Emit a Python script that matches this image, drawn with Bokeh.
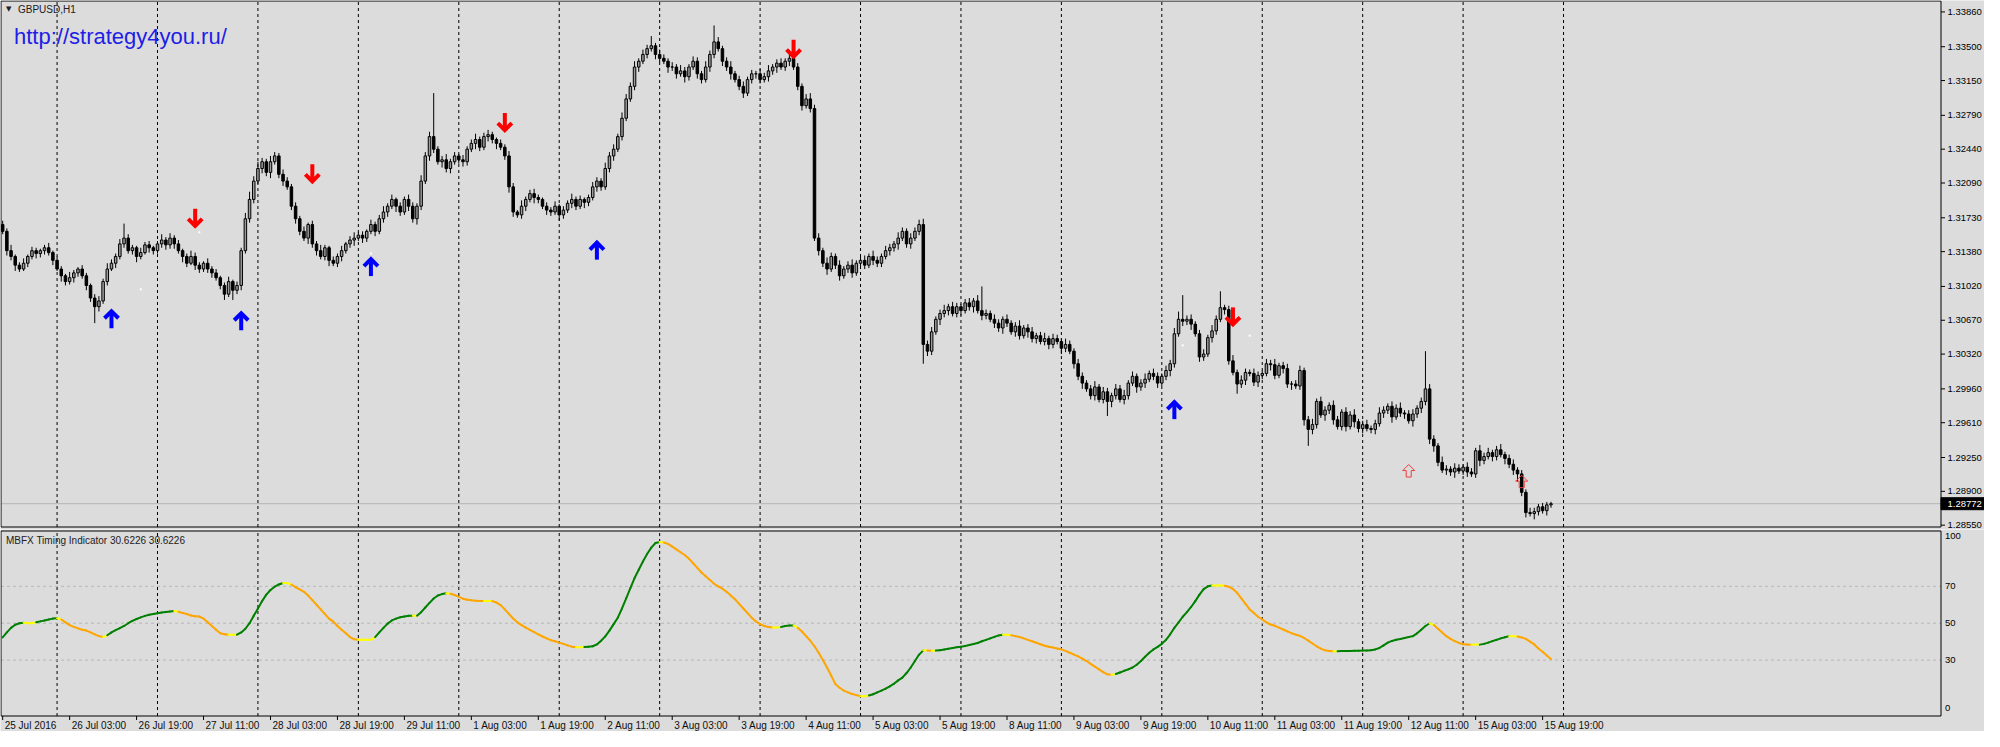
from bokeh.plotting import figure
from bokeh.layouts import column
from bokeh.models import Range1d, Label, ColumnDataSource
from bokeh.core.properties import value
from bokeh.embed import file_html
from bokeh.resources import INLINE

# ---------------- data (GBPUSD H1, 25 Jul 2016 11:00 -> 15 Aug 2016 21:00) ----------------
first_open = 1.3166
close = [
    1.3159, 1.3139, 1.3133, 1.3124, 1.3120, 1.3126, 1.3133, 1.3139, 1.3136, 1.3139,
    1.3142, 1.3137, 1.3129, 1.3120, 1.3113, 1.3107, 1.3111, 1.3116, 1.3120, 1.3113,
    1.3103, 1.3090, 1.3081, 1.3087, 1.3107, 1.3120, 1.3126, 1.3133, 1.3146, 1.3152,
    1.3139, 1.3142, 1.3133, 1.3137, 1.3145, 1.3142, 1.3139, 1.3146, 1.3150, 1.3145,
    1.3152, 1.3146, 1.3139, 1.3133, 1.3126, 1.3133, 1.3124, 1.3120, 1.3126, 1.3120,
    1.3116, 1.3111, 1.3103, 1.3094, 1.3107, 1.3098, 1.3103, 1.3139, 1.3172, 1.3192,
    1.3211, 1.3224, 1.3231, 1.3220, 1.3231, 1.3237, 1.3218, 1.3211, 1.3205, 1.3185,
    1.3172, 1.3159, 1.3152, 1.3166, 1.3146, 1.3139, 1.3133, 1.3142, 1.3129, 1.3126,
    1.3133, 1.3139, 1.3146, 1.3150, 1.3152, 1.3155, 1.3152, 1.3159, 1.3166, 1.3159,
    1.3172, 1.3179, 1.3185, 1.3192, 1.3185, 1.3179, 1.3192, 1.3185, 1.3172, 1.3185,
    1.3211, 1.3237, 1.3257, 1.3244, 1.3231, 1.3233, 1.3224, 1.3231, 1.3237, 1.3233,
    1.3231, 1.3244, 1.3250, 1.3254, 1.3246, 1.3257, 1.3259, 1.3254, 1.3250, 1.3246,
    1.3237, 1.3205, 1.3179, 1.3176, 1.3185, 1.3192, 1.3198, 1.3194, 1.3192, 1.3185,
    1.3181, 1.3179, 1.3185, 1.3176, 1.3181, 1.3188, 1.3192, 1.3185, 1.3192, 1.3189,
    1.3194, 1.3205, 1.3211, 1.3205, 1.3224, 1.3237, 1.3244, 1.3257, 1.3276, 1.3296,
    1.3309, 1.3329, 1.3335, 1.3342, 1.3348, 1.3351, 1.3342, 1.3338, 1.3335, 1.3329,
    1.3329, 1.3322, 1.3325, 1.3319, 1.3329, 1.3335, 1.3322, 1.3316, 1.3329, 1.3342,
    1.3355, 1.3348, 1.3335, 1.3329, 1.3322, 1.3316, 1.3309, 1.3302, 1.3316, 1.3322,
    1.3322, 1.3316, 1.3319, 1.3325, 1.3329, 1.3333, 1.3329, 1.3335, 1.3338, 1.3329,
    1.3309, 1.3289, 1.3296, 1.3286, 1.3152, 1.3139, 1.3126, 1.3120, 1.3133, 1.3124,
    1.3113, 1.3120, 1.3124, 1.3116, 1.3126, 1.3129, 1.3124, 1.3133, 1.3129, 1.3126,
    1.3133, 1.3139, 1.3142, 1.3146, 1.3152, 1.3159, 1.3146, 1.3152, 1.3159, 1.3166,
    1.3042, 1.3035, 1.3055, 1.3068, 1.3074, 1.3077, 1.3081, 1.3074, 1.3081, 1.3077,
    1.3085, 1.3081, 1.3087, 1.3077, 1.3072, 1.3074, 1.3068, 1.3064, 1.3059, 1.3068,
    1.3064, 1.3055, 1.3061, 1.3051, 1.3059, 1.3055, 1.3048, 1.3051, 1.3045, 1.3048,
    1.3042, 1.3048, 1.3045, 1.3038, 1.3042, 1.3035, 1.3022, 1.3009, 1.3002, 1.2996,
    1.2989, 1.2998, 1.2985, 1.2993, 1.2983, 1.2989, 1.2996, 1.2985, 1.2989, 1.3002,
    1.3009, 1.2998, 1.3002, 1.3006, 1.3012, 1.3009, 1.3002, 1.3009, 1.3015, 1.3022,
    1.3053, 1.3068, 1.3066, 1.3068, 1.3063, 1.3053, 1.3029, 1.3032, 1.3049, 1.3056,
    1.3068, 1.3080, 1.3078, 1.3025, 1.3013, 1.3001, 1.3005, 1.3013, 1.3012, 1.3003,
    1.3010, 1.3012, 1.3022, 1.3021, 1.3010, 1.3020, 1.3017, 1.3001, 1.3001, 1.2999,
    1.3015, 1.2964, 1.2954, 1.2959, 1.2983, 1.2969, 1.2974, 1.2979, 1.2964, 1.2957,
    1.2972, 1.2957, 1.2969, 1.2962, 1.2955, 1.2959, 1.2955, 1.2954, 1.2960, 1.2971,
    1.2974, 1.2978, 1.2967, 1.2976, 1.2971, 1.2970, 1.2963, 1.2970, 1.2976, 1.2983,
    1.2996, 1.2944, 1.2937, 1.2920, 1.2912, 1.2913, 1.2910, 1.2914, 1.2911, 1.2915,
    1.2910, 1.2908, 1.2932, 1.2922, 1.2926, 1.2930, 1.2926, 1.2933, 1.2928, 1.2924,
    1.2918, 1.2912, 1.2908, 1.2889, 1.2868, 1.2867, 1.2869, 1.2874, 1.2870, 1.2876, 1.28772,
]
# upper / lower shadow lengths in pips
wick_up = [
    4, 3, 6, 2, 3, 5, 2, 4, 3, 2,  3, 5, 2, 4, 3, 2, 6, 3, 2, 4,
    3, 2, 4, 5, 3, 6, 4, 3, 5, 15,  4, 3, 2, 5, 3, 4, 2, 3, 6, 3,
    5, 3, 4, 2, 3, 6, 4, 3, 2, 5,  3, 4, 2, 3, 5, 2, 4, 3, 6, 8,
    5, 7, 4, 3, 6, 4, 3, 5, 4, 3,  4, 3, 5, 2, 4, 3, 6, 3, 2, 4,
    3, 5, 2, 4, 6, 3, 4, 2, 5, 3,  4, 6, 3, 5, 2, 4, 3, 5, 4, 3,
    6, 4, 5, 45, 3, 4, 6, 3, 4, 2,  5, 3, 4, 6, 3, 4, 5, 3, 2, 4,
    3, 5, 4, 2, 6, 3, 4, 5, 3, 2,  4, 3, 5, 2, 4, 3, 6, 3, 4, 2,
    3, 5, 4, 3, 6, 4, 5, 3, 6, 5,  4, 6, 3, 5, 4, 10, 3, 5, 4, 3,
    5, 3, 6, 4, 3, 5, 4, 3, 6, 4,  17, 5, 3, 4, 6, 3, 4, 5, 3, 4,
    3, 5, 4, 6, 3, 4, 5, 3, 4, 6,  4, 3, 5, 6, 4, 5, 3, 6, 4, 3,
    5, 3, 4, 6, 3, 4, 5, 3, 6, 4,  3, 5, 4, 3, 6, 4, 3, 5, 4, 5,
    6, 4, 5, 3, 4, 6, 3, 5, 4, 3,  4, 5, 3, 6, 25, 4, 3, 5, 4, 3,
    5, 3, 4, 6, 3, 4, 5, 3, 4, 6,  3, 5, 4, 3, 6, 4, 3, 5, 4, 3,
    4, 6, 3, 5, 4, 3, 5, 4, 6, 3,  5, 3, 4, 6, 3, 5, 4, 3, 5, 4,
    6, 8, 25, 4, 5, 3, 4, 5, 3, 6,  4, 17, 3, 4, 6, 3, 5, 4, 3, 5,
    4, 3, 5, 4, 6, 3, 4, 5, 3, 4,  5, 3, 4, 6, 3, 5, 4, 3, 5, 4,
    3, 5, 4, 6, 3, 4, 5, 3, 4, 6,  4, 3, 5, 4, 6, 3, 4, 5, 3, 4,
    39, 5, 4, 3, 6, 4, 3, 5, 4, 3,  5, 4, 3, 6, 4, 5, 3, 4, 6, 3,
    4, 5, 3, 4, 3, 5, 4, 3, 4, 3, 2,
]
wick_dn = [
    3, 5, 4, 6, 3, 2, 4, 3, 5, 4,  4, 3, 5, 2, 6, 4, 3, 5, 4, 3,
    5, 4, 17, 5, 3, 4, 2, 5, 3, 4,  3, 4, 6, 3, 2, 5, 4, 3, 4, 5,
    4, 5, 3, 6, 4, 2, 5, 4, 3, 4,  5, 3, 4, 6, 3, 10, 4, 5, 3, 4,
    4, 3, 5, 4, 6, 3, 4, 5, 3, 4,  5, 4, 3, 6, 4, 5, 3, 4, 6, 3,
    4, 5, 3, 4, 6, 3, 5, 4, 3, 5,  3, 4, 5, 3, 6, 4, 3, 5, 4, 6,
    4, 3, 5, 4, 3, 6, 4, 5, 3, 4,  5, 4, 3, 6, 4, 3, 5, 4, 6, 3,
    4, 6, 5, 3, 4, 5, 3, 6, 4, 3,  5, 4, 3, 6, 4, 3, 5, 4, 3, 6,
    4, 3, 5, 4, 3, 4, 5, 3, 4, 3,  3, 4, 5, 3, 4, 3, 5, 4, 3, 6,
    4, 5, 3, 6, 4, 3, 5, 4, 3, 5,  4, 3, 5, 4, 6, 3, 4, 5, 3, 4,
    5, 4, 3, 5, 4, 6, 3, 4, 5, 3,  4, 5, 3, 4, 3, 5, 4, 6, 3, 4,
    5, 3, 4, 5, 3, 6, 4, 3, 5, 4,  4, 3, 5, 4, 6, 3, 4, 5, 3, 4,
    20, 5, 4, 3, 6, 4, 5, 3, 4, 5,  3, 4, 6, 3, 5, 4, 3, 5, 4, 6,
    4, 3, 5, 4, 3, 6, 4, 5, 3, 4,  5, 4, 3, 6, 4, 3, 5, 4, 6, 3,
    4, 5, 3, 4, 15, 6, 4, 3, 5, 4,  3, 6, 4, 5, 3, 4, 5, 3, 4, 6,
    4, 3, 5, 4, 6, 3, 5, 4, 3, 5,  4, 3, 5, 4, 3, 10, 4, 5, 3, 4,
    5, 4, 3, 6, 4, 3, 5, 4, 6, 3,  4, 6, 17, 5, 4, 3, 6, 4, 5, 3,
    4, 5, 3, 6, 4, 5, 3, 4, 5, 3,  5, 4, 6, 3, 4, 5, 3, 6, 4, 5,
    4, 5, 6, 4, 3, 5, 4, 6, 3, 4,  5, 3, 4, 6, 4, 3, 5, 4, 3, 6,
    4, 5, 8, 4, 5, 3, 6, 4, 3, 5, 3,
]
# MBFX Timing Indicator values
mbfx = [
    42.3, 45, 47.5, 49.2, 50, 50.3, 50, 50, 50.5, 51,
    51.5, 52, 52.5, 52.7, 52, 50.5, 49, 48, 47.2, 46.5,
    46, 45, 44, 43, 42.5, 43.5, 45, 46.3, 47.3, 48.5,
    50, 51.3, 52.3, 53.2, 54, 54.6, 55, 55.4, 55.8, 56.1,
    56.4, 56.6, 56.2, 55.5, 55, 54.2, 53.8, 53.6, 52.5, 50.5,
    48.5, 46.5, 44.6, 44, 43.75, 43.75, 43.8, 45, 47, 50,
    54, 58, 62, 65.5, 68, 69.8, 71, 71.8, 71.8, 71,
    69.5, 68.3, 67, 65, 62.5, 60, 57.5, 55, 52.5, 50.9,
    48.5, 46.5, 44.5, 42.5, 41.3, 41, 41, 41, 41, 42.5,
    45, 47.5, 49.8, 51.5, 52.5, 53.2, 53.6, 54, 54.1, 54.1,
    56, 58.5, 61, 63.4, 65, 65.8, 66.25, 66, 65.3, 64.3,
    63.3, 62.7, 62.5, 62.2, 62.1, 62, 62, 62, 61.2, 59.8,
    57.5, 55, 52.5, 50.5, 49, 47.6, 46.4, 45.2, 44, 42.8,
    41.8, 40.8, 40.2, 39.5, 38.8, 38, 37.3, 37, 37, 37.1,
    37.3, 37.5, 38.5, 40.5, 42.9, 46, 49.5, 53, 58, 63.5,
    69, 74.5, 79, 83.5, 87.5, 91, 93.5, 94, 93.8, 93,
    91.5, 90, 88.5, 87, 85, 82.5, 80, 77.5, 75.5, 73.5,
    71.4, 70, 68.7, 67, 65, 63, 60.5, 58, 55.5, 53,
    51, 49.5, 48.5, 48, 47.7, 47.7, 48, 48.5, 48.75, 48.8,
    47.5, 45.5, 43, 40.5, 37.5, 34, 30, 26, 21.5, 17,
    15, 13.5, 12.5, 11.6, 11, 10.4, 10.4, 10.8, 11.5, 12.5,
    13.5, 14.5, 15.8, 17.2, 19, 20.5, 23, 26, 29.5, 33,
    35.3, 35.2, 35.1, 35.15, 35.4, 35.8, 36.2, 36.6, 37, 37.3,
    37.7, 38.2, 38.7, 39.3, 40.2, 41, 41.8, 42.6, 43.4, 43.8,
    43.8, 43.5, 43, 42.5, 41.8, 41, 40.2, 39.4, 38.6, 37.8,
    37.2, 36.8, 36.3, 35.8, 35, 34, 33, 32, 30.8, 29.5,
    28, 26.5, 25, 23.5, 22.3, 22, 22.5, 23.3, 24.2, 25,
    26, 27.5, 29.5, 31.8, 34, 35.8, 37.2, 38.8, 41, 44,
    47.5, 50.5, 53.5, 56, 58.8, 62, 65.5, 68.5, 70, 70.5,
    70.5, 70.5, 70.3, 69.8, 68.5, 66.5, 63.5, 60.5, 57.5, 55.5,
    53.5, 52, 50.5, 49.3, 48.6, 47.6, 46.6, 45.6, 44.6, 43.8,
    43.2, 42, 40.6, 39, 37.5, 36.2, 35.3, 34.9, 34.8, 34.85,
    34.9, 34.95, 35, 35.05, 35.1, 35.15, 35.2, 35.4, 35.8, 36.6,
    38, 39.5, 40.4, 41, 41.5, 42, 42.5, 43, 44.5, 46.5,
    48.5, 50, 49, 47, 45, 43, 41.5, 40.3, 39.3, 38.6,
    38.4, 38.3, 38.4, 38.4, 38.8, 39.5, 40.3, 41, 41.8, 42.4,
    43, 43, 42.8, 42.3, 41.5, 40, 38.5, 36.3, 34.5, 32.5, 30.6226,
]
buy_bar = [26, 57, 88, 142, 280]
buy_price = [1.3068, 1.3066, 1.3122, 1.3139, 1.2974]
sell_bar = [46, 74, 120, 189, 294]
sell_price = [1.3173, 1.3219, 1.3272, 1.3348, 1.3071]
hollow_bar = [336, 363]
hollow_price = [1.2911, 1.2900]
dot_bar = [33, 47, 88, 282, 298]
dot_price = [1.3099, 1.3158, 1.3136, 1.3041, 1.3051]
last_price = 1.28772
last_price_label = "1.28772"

price_ticks = [1.33860, 1.33500, 1.33150, 1.32790, 1.32440, 1.32090, 1.31730, 1.31380,
               1.31020, 1.30670, 1.30320, 1.29960, 1.29610, 1.29250, 1.28900, 1.28550]
time_label_bars = [0, 16, 32, 48, 64, 80, 96, 112, 128, 144, 160, 176, 192, 208, 224,
                   240, 256, 272, 288, 304, 320, 336, 352, 368]
time_labels = ["25 Jul 2016", "26 Jul 03:00", "26 Jul 19:00", "27 Jul 11:00", "28 Jul 03:00",
               "28 Jul 19:00", "29 Jul 11:00", "1 Aug 03:00", "1 Aug 19:00", "2 Aug 11:00",
               "3 Aug 03:00", "3 Aug 19:00", "4 Aug 11:00", "5 Aug 03:00", "5 Aug 19:00",
               "8 Aug 11:00", "9 Aug 03:00", "9 Aug 19:00", "10 Aug 11:00", "11 Aug 03:00",
               "11 Aug 19:00", "12 Aug 11:00", "15 Aug 03:00", "15 Aug 19:00"]
day_bars = [13, 37, 61, 85, 109, 133, 157, 181, 205, 229, 253, 277, 301, 325, 349, 373]
level_values = [30, 50, 70]
sub_mid_labels = [70, 50, 30]
sub_top_label = 100
sub_bottom_label = 0
indicator_title = "MBFX Timing Indicator 30.6226 30.6226"

n = len(close)
assert len(wick_up) == n and len(wick_dn) == n and len(mbfx) == n

# ---------------- layout (pixels) ----------------
W = 1984
MAIN_H, SUB_H = 529, 202
BOX_L, BOX_R = 0.5, 1940.5                 # chart box left/right (px from canvas left)
MAIN_TOP, MAIN_BOT = 0.5, 526.5            # main box (px from canvas top)
SUB_TOP, SUB_BOT = 1.5, 186.5              # sub box (px from canvas top)
X0, X1 = -0.4, 463.2                       # bar index at box edges
Y0, Y1 = 1.28531, 1.33973                  # price at main box edges
V0, V1 = -0.3, 100.0                       # indicator value at sub box edges
BG = "#dcdcdc"
FONT = value("Liberation Sans")

ppb = (BOX_R - BOX_L) / (X1 - X0)
x_start = X0 - BOX_L / ppb
x_end = x_start + W / ppb
ppp = (MAIN_BOT - MAIN_TOP) / (Y1 - Y0)
y_end = Y1 + MAIN_TOP / ppp
y_start = y_end - MAIN_H / ppp
ppv = (SUB_BOT - SUB_TOP) / (V1 - V0)
v_end = V1 + SUB_TOP / ppv
v_start = v_end - SUB_H / ppv

x_range = Range1d(x_start, x_end)


def base_fig(h, yr):
    f = figure(width=W, height=h, x_range=x_range, y_range=yr, toolbar_location=None,
               output_backend="svg", x_axis_location=None, y_axis_location=None, title=None,
               min_border=0)
    f.background_fill_color = BG
    f.border_fill_color = BG
    f.outline_line_color = None
    f.grid.visible = False
    return f


# ---------------- main price panel ----------------
opens = [first_open] + close[:-1]
highs = [max(o, c) + u * 0.0001 for o, c, u in zip(opens, close, wick_up)]
lows = [min(o, c) - d * 0.0001 for o, c, d in zip(opens, close, wick_dn)]
src = ColumnDataSource(dict(
    x=list(range(n)), h=highs, l=lows,
    top=[max(o, c) for o, c in zip(opens, close)],
    bot=[min(o, c) for o, c in zip(opens, close)],
    fill=["#9c9c9c" if c >= o else "#000000" for o, c in zip(opens, close)],
))

p = base_fig(MAIN_H, Range1d(y_start, y_end))
p.segment(x0=day_bars, y0=[Y0] * len(day_bars), x1=day_bars, y1=[Y1] * len(day_bars),
          line_color="black", line_dash="3 3", line_width=1)
p.segment(x0=[X0], y0=[last_price], x1=[X1], y1=[last_price], line_color="#b4b4b4", line_width=1)
p.segment(x0="x", y0="l", x1="x", y1="h", source=src, line_color="black", line_width=1)
p.vbar(x="x", width=0.6, top="top", bottom="bot", source=src, fill_color="fill",
       line_color="black", line_width=1)


def arrow_paths(bars, prices, up):
    s = 1 if up else -1
    xs, ys = [], []
    for b, pr in zip(bars, prices):
        for path in ([(0, -9 * s), (0, 8 * s)], [(-7, 1 * s), (0, 8 * s), (7, 1 * s)]):
            xs.append([b + px / ppb for px, _ in path])
            ys.append([pr + py / ppp for _, py in path])
    return xs, ys


bx, by = arrow_paths(buy_bar, buy_price, True)
p.multi_line(bx, by, line_color="#0000ff", line_width=4, line_join="miter")
sx, sy = arrow_paths(sell_bar, sell_price, False)
p.multi_line(sx, sy, line_color="#ff0000", line_width=4, line_join="miter")
hollow_shape = [(0, 6.5), (6, 0.5), (2.5, 0.5), (2.5, -6), (-2.5, -6), (-2.5, 0.5), (-6, 0.5)]
hx = [[b + px / ppb for px, _ in hollow_shape] for b in hollow_bar]
hy = [[pr + py / ppp for _, py in hollow_shape] for pr in hollow_price]
p.patches(hx, hy, fill_alpha=0, line_color="#f03c3c", line_width=1)
p.scatter(dot_bar, dot_price, marker="square", size=2, fill_color="white", line_color=None)

p.quad(left=[X0], right=[X1], bottom=[Y0], top=[Y1], fill_color=None, line_color="black",
       line_width=1)
p.segment(x0=[X1] * len(price_ticks), y0=price_ticks, x1=[X1 + 4 / ppb] * len(price_ticks),
          y1=price_ticks, line_color="black", line_width=1)
p.text(x=[X1 + 6.5 / ppb] * len(price_ticks), y=price_ticks,
       text=["%.5f" % t for t in price_ticks], text_font=FONT, text_font_size="9.5px",
       text_align="left", text_baseline="middle", text_color="#000000")
p.quad(left=[X1], right=[x_end], bottom=[last_price - 6 / ppp], top=[last_price + 6 / ppp],
       fill_color="black", line_color="black")
p.text(x=[X1 + 6.5 / ppb], y=[last_price], text=[last_price_label], text_font=FONT,
       text_font_size="9.5px", text_align="left", text_baseline="middle", text_color="white")

p.add_layout(Label(x=BOX_L + 5, y=MAIN_H - MAIN_TOP - 4, x_units="screen", y_units="screen",
                   text="\u25bc", text_font="DejaVu Sans", text_font_size="7px",
                   text_baseline="top", text_color="#202020"))
p.add_layout(Label(x=BOX_L + 17, y=MAIN_H - MAIN_TOP - 3, x_units="screen", y_units="screen",
                   text="GBPUSD,H1", text_font="Liberation Sans", text_font_size="10px",
                   text_baseline="top", text_color="#202020"))
p.add_layout(Label(x=BOX_L + 13, y=MAIN_H - MAIN_TOP - 35, x_units="screen", y_units="screen",
                   text="http://strategy4you.ru/", text_font="Liberation Sans",
                   text_font_size="22px", text_baseline="alphabetic", text_color="#1e1ee6"))

# ---------------- MBFX sub panel ----------------
q = base_fig(SUB_H, Range1d(v_start, v_end))
q.segment(x0=day_bars, y0=[V0] * len(day_bars), x1=day_bars, y1=[V1] * len(day_bars),
          line_color="black", line_dash="3 3", line_width=1)
q.segment(x0=[X0] * 3, y0=level_values, x1=[X1] * 3, y1=level_values,
          line_color="#b8b8b8", line_dash="3 3", line_width=1)

seg_x0, seg_y0, seg_x1, seg_y1, seg_c = [], [], [], [], []
prev = 0
for i in range(n - 1):
    d = mbfx[i + 1] - mbfx[i]
    s = 1 if d > 0 else (-1 if d < 0 else 0)
    if s == 0 or (prev != 0 and s != prev):
        col = "#ffff00"
    else:
        col = "#008000" if s > 0 else "#ffa500"
    if s != 0:
        prev = s
    seg_x0.append(i); seg_y0.append(mbfx[i]); seg_x1.append(i + 1); seg_y1.append(mbfx[i + 1])
    seg_c.append(col)
q.segment(x0=seg_x0, y0=seg_y0, x1=seg_x1, y1=seg_y1, line_color=seg_c, line_width=2,
          line_cap="round")

q.quad(left=[X0], right=[X1], bottom=[V0], top=[V1], fill_color=None, line_color="black",
       line_width=1)
q.text(x=[X1 + 4 / ppb] * 3, y=sub_mid_labels, text=[str(v) for v in sub_mid_labels],
       text_font=FONT, text_font_size="9.5px", text_align="left", text_baseline="middle",
       text_color="#000000")
q.text(x=[X1 + 4 / ppb], y=[sub_top_label - 2 / ppv], text=[str(sub_top_label)],
       text_font=FONT, text_font_size="9.5px", text_align="left", text_baseline="top",
       text_color="#000000")
q.text(x=[X1 + 4 / ppb], y=[sub_bottom_label + 4 / ppv], text=[str(sub_bottom_label)],
       text_font=FONT, text_font_size="9.5px", text_align="left", text_baseline="bottom",
       text_color="#000000")
q.segment(x0=time_label_bars, y0=[V0] * len(time_label_bars), x1=time_label_bars,
          y1=[V0 - 4 / ppv] * len(time_label_bars), line_color="black", line_width=1)
q.text(x=[b + 2 / ppb for b in time_label_bars], y=[V0 - 3.5 / ppv] * len(time_label_bars),
       text=time_labels, text_font=FONT, text_font_size="10px", text_align="left",
       text_baseline="top", text_color="#101010")

q.add_layout(Label(x=BOX_L + 5, y=SUB_H - SUB_TOP - 4, x_units="screen", y_units="screen",
                   text=indicator_title, text_font="Liberation Sans", text_font_size="10px",
                   text_baseline="top", text_color="#202020"))

layout = column(p, q, spacing=0)
open("out.html", "w").write(file_html(layout, INLINE))
